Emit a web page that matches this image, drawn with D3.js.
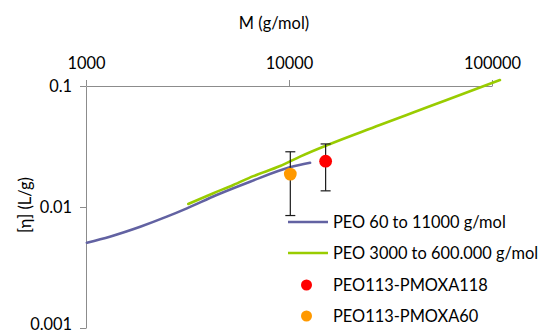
<!DOCTYPE html>
<html>
<head>
<meta charset="utf-8">
<script src="https://cdn.jsdelivr.net/npm/d3@7/dist/d3.min.js"></script>
<style>
  html, body { margin: 0; padding: 0; background: #fff; }
  svg { display: block; font-family: Lato, "Liberation Sans", sans-serif; }
</style>
</head>
<body>
<svg id="chart" width="543" height="335"></svg>
<script>
// Mark–Houwink data for PEO: intrinsic viscosity [η] (L/g) against molar mass M (g/mol)
const peoLowM   = [1010, 1310, 1850, 2500, 3140, 4400, 6430, 10100, 12700];
const peoLowEta = [0.00507, 0.00569, 0.00687, 0.00832, 0.00975, 0.01256, 0.01618, 0.0213, 0.0232];

const peoHighM   = [3190, 4240, 5320, 6670, 9040, 11330, 28000, 40900, 59800, 109400];
const peoHighEta = [0.0106, 0.0130, 0.0152, 0.0180, 0.0218, 0.0261, 0.0476, 0.0604, 0.0765, 0.112];

// Copolymer measurements with error ranges
const sampleNames = ["PEO113-PMOXA118", "PEO113-PMOXA60"];
const sampleM     = [15150, 10150];
const sampleEta   = [0.0239, 0.0187];
const sampleLow   = [0.0136, 0.0085];
const sampleHigh  = [0.0332, 0.0286];
const sampleColors = ["#ff0000", "#ff9900"];

const lineNames  = ["PEO 60 to 11000 g/mol", "PEO 3000 to 600.000 g/mol"];
const lineColors = ["#6262a2", "#99cc00"];

const xTicks = [1000, 10000, 100000];
const yTicks = [0.001, 0.01, 0.1];

const svg = d3.select("#chart");
const x = d3.scaleLog().domain([1000, 100000]).range([86, 492]);
const y = d3.scaleLog().domain([0.001, 0.1]).range([328, 86]);

const axisColor = "#8c8c8c";
const fontSize = 16.4;

// x axis along the top, at [η] = 0.1
const xAxis = svg.append("g").attr("transform", `translate(0,${y(0.1)})`)
  .call(d3.axisTop(x).tickValues(xTicks).tickFormat(d3.format("d")).tickSize(6).tickSizeOuter(0));
xAxis.select(".domain").attr("stroke", axisColor);
xAxis.selectAll(".tick line").attr("stroke", axisColor);
xAxis.selectAll(".tick text").attr("font-size", fontSize).attr("fill", "#000")
  .attr("font-family", "Lato, sans-serif").attr("dy", "-0.5em");

// y axis at M = 1000
const yAxis = svg.append("g").attr("transform", `translate(${x(1000)},0)`)
  .call(d3.axisLeft(y).tickValues(yTicks).tickFormat(d => String(d)).tickSize(6).tickSizeOuter(0));
yAxis.select(".domain").attr("stroke", axisColor);
yAxis.selectAll(".tick line").attr("stroke", axisColor);
yAxis.selectAll(".tick text").attr("font-size", fontSize).attr("fill", "#000")
  .attr("font-family", "Lato, sans-serif").attr("dx", "-0.3em")
  .attr("dy", d => d === 0.001 ? "0.1em" : "0.32em");

// axis titles
svg.append("text").attr("x", 274).attr("y", 29).attr("text-anchor", "middle")
  .attr("font-size", fontSize).text("M (g/mol)");
svg.append("text").attr("transform", `translate(31,${(y(0.1) + y(0.001)) / 2 - 2}) rotate(-90)`)
  .attr("text-anchor", "middle").attr("font-size", fontSize).text("[η] (L/g)");

// PEO reference lines
const line = d3.line().x(d => x(d[0])).y(d => y(d[1])).curve(d3.curveMonotoneX);
const series = [
  d3.zip(peoLowM, peoLowEta),
  d3.zip(peoHighM, peoHighEta)
];
series.forEach((s, i) => {
  svg.append("path").datum(s).attr("d", line).attr("fill", "none")
    .attr("stroke", lineColors[i]).attr("stroke-width", 2.6).attr("stroke-linecap", "round");
});

// error bars and sample points
const capHalf = 5;
sampleM.forEach((m, i) => {
  const g = svg.append("g").attr("stroke", "#1a1a1a").attr("stroke-width", 1.2);
  g.append("line").attr("x1", x(m)).attr("x2", x(m)).attr("y1", y(sampleLow[i])).attr("y2", y(sampleHigh[i]));
  g.append("line").attr("x1", x(m) - capHalf).attr("x2", x(m) + capHalf).attr("y1", y(sampleLow[i])).attr("y2", y(sampleLow[i]));
  g.append("line").attr("x1", x(m) - capHalf).attr("x2", x(m) + capHalf).attr("y1", y(sampleHigh[i])).attr("y2", y(sampleHigh[i]));
});
sampleM.forEach((m, i) => {
  svg.append("circle").attr("cx", x(m)).attr("cy", y(sampleEta[i])).attr("r", 6.4)
    .attr("fill", sampleColors[i]);
});

// legend
const legend = svg.append("g").attr("transform", "translate(288,222)");
const rowGap = 31;
lineNames.forEach((name, i) => {
  legend.append("line").attr("x1", 0).attr("x2", 40).attr("y1", i * rowGap).attr("y2", i * rowGap)
    .attr("stroke", lineColors[i]).attr("stroke-width", 2.6);
  legend.append("text").attr("x", 45).attr("y", i * rowGap).attr("dy", "0.35em")
    .attr("font-size", fontSize).text(name);
});
sampleNames.forEach((name, j) => {
  const row = j + 2;
  legend.append("circle").attr("cx", 18.5).attr("cy", row * rowGap + 1).attr("r", 5.5).attr("fill", sampleColors[j]);
  legend.append("text").attr("x", 45).attr("y", row * rowGap + 1).attr("dy", "0.35em")
    .attr("font-size", fontSize).text(name);
});
</script>
</body>
</html>
